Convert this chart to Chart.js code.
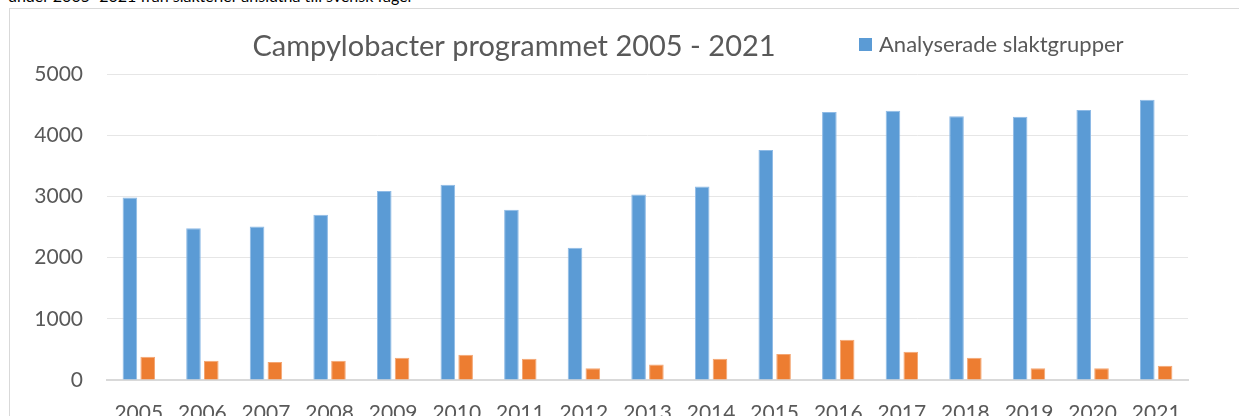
<!DOCTYPE html>
<html>
<head>
<meta charset="utf-8">
<script src="https://cdn.jsdelivr.net/npm/chart.js@4.4.1/dist/chart.umd.min.js"></script>
<style>
  html, body { margin: 0; padding: 0; background: #fff; overflow: hidden; }
  body { width: 1239px; height: 416px; position: relative; }
  #caption { position: absolute; left: 8px; top: -14px; font: 16px Lato, sans-serif; color: #000; white-space: nowrap; }
  #frame { position: absolute; left: 9px; top: 8px; width: 1300px; height: 500px; border: 1px solid #d9d9d9; border-right: none; border-bottom: none; box-sizing: border-box; }
  #wrap { position: absolute; left: 0; top: 0; width: 1239px; height: 450px; }
</style>
</head>
<body>
<div id="caption">under 2005–2021 från slakterier anslutna till svensk fågel</div>
<div id="frame"></div>
<div id="wrap"><canvas id="chart"></canvas></div>
<script>
const chartTitle = 'Campylobacter programmet 2005 - 2021';
const years = ['2005','2006','2007','2008','2009','2010','2011','2012','2013','2014','2015','2016','2017','2018','2019','2020','2021'];
// analyserade slaktgrupper
const analysed = [2980, 2480, 2510, 2700, 3090, 3190, 2780, 2160, 3030, 3160, 3760, 4380, 4400, 4310, 4300, 4410, 4580];
// positiva slaktgrupper (legend entry cut off in the picture)
const positive = [380, 316, 294, 316, 364, 413, 348, 190, 255, 348, 425, 659, 462, 364, 190, 190, 234];
const yTicks = [0, 1000, 2000, 3000, 4000, 5000];

const textColor = '#595959';
const fontFamily = 'Lato, "Open Sans", sans-serif';

// title and the one-entry legend sit on the same line, like in Excel
const headerPlugin = {
  id: 'header',
  afterDraw(chart) {
    const ctx = chart.ctx;
    ctx.save();
    ctx.fillStyle = textColor;
    ctx.textBaseline = 'middle';
    ctx.textAlign = 'center';
    ctx.font = '29px ' + fontFamily;
    ctx.fillText(chartTitle, 514, 47);
    const ds = chart.data.datasets[0];
    ctx.fillStyle = ds.backgroundColor;
    ctx.fillRect(859, 38, 13, 13);
    ctx.fillStyle = textColor;
    ctx.textAlign = 'left';
    ctx.font = '22px ' + fontFamily;
    ctx.fillText(ds.label, 879, 45);
    ctx.restore();
  }
};

new Chart(document.getElementById('chart'), {
  type: 'bar',
  data: {
    labels: years,
    datasets: [{
      label: 'Analyserade slaktgrupper',
      data: analysed,
      backgroundColor: '#5b9bd5',
      borderColor: '#8fbbe6',
      borderWidth: 1,
      categoryPercentage: 0.56,
      barPercentage: 0.82
    }, {
      label: 'Positiva slaktgrupper',
      data: positive,
      backgroundColor: '#ed7d31',
      borderColor: '#f4a673',
      borderWidth: 1,
      categoryPercentage: 0.56,
      barPercentage: 0.82
    }]
  },
  options: {
    responsive: true,
    maintainAspectRatio: false,
    animation: false,
    layout: { padding: { top: 74, right: 51, left: 0, bottom: 0 } },
    plugins: {
      legend: { display: false },
      title: { display: false },
      tooltip: { enabled: false }
    },
    scales: {
      x: {
        grid: { display: false, drawTicks: false },
        border: { color: '#d9d9d9', width: 2 },
        ticks: { color: textColor, font: { family: fontFamily, size: 21 }, padding: 21, maxRotation: 0, autoSkip: false },
        afterFit(scale) { scale.height = 70; }
      },
      y: {
        min: 0,
        max: 5000,
        afterBuildTicks(scale) { scale.ticks = yTicks.map(v => ({ value: v })); },
        grid: { color: '#e6e6e6', lineWidth: 1, drawTicks: false },
        border: { display: false },
        ticks: { color: textColor, font: { family: fontFamily, size: 21 }, padding: 24, callback: v => String(v) },
        afterFit(scale) { scale.width = 107; }
      }
    }
  },
  plugins: [headerPlugin]
});
</script>
</body>
</html>
